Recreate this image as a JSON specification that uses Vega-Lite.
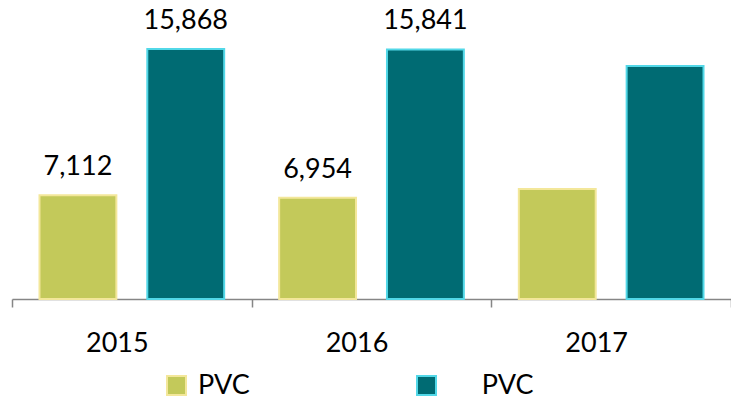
{
  "$schema": "https://vega.github.io/schema/vega-lite/v6.json",
  "width": 719,
  "height": 299,
  "autosize": {"type": "none"},
  "padding": {"left": 12, "top": 0, "right": 0, "bottom": 101},
  "background": "white",
  "config": {"view": {"stroke": null}, "font": "Lato"},
  "data": {
    "values": [
      {"year": "2015", "series": "A", "value": 7112, "labeled": true},
      {"year": "2015", "series": "B", "value": 15868, "labeled": true},
      {"year": "2016", "series": "A", "value": 6954, "labeled": true},
      {"year": "2016", "series": "B", "value": 15841, "labeled": true},
      {"year": "2017", "series": "A", "value": 7490, "labeled": false},
      {"year": "2017", "series": "B", "value": 14850, "labeled": false}
    ]
  },
  "encoding": {
    "x": {
      "field": "year",
      "type": "nominal",
      "scale": {"paddingInner": 0, "paddingOuter": 0},
      "axis": {
        "title": null,
        "labelAngle": 0,
        "labelFont": "Lato",
        "labelFontSize": 27,
        "labelColor": "#000000",
        "labelOffset": -15,
        "labelPadding": 23,
        "tickBand": "extent",
        "tickSize": 8,
        "tickColor": "#868686",
        "domainColor": "#868686",
        "domainWidth": 1.5,
        "tickWidth": 1.5,
        "grid": false
      }
    },
    "xOffset": {
      "field": "series",
      "type": "nominal",
      "scale": {"paddingInner": 0.287, "paddingOuter": 0.255}
    },
    "y": {
      "field": "value",
      "type": "quantitative",
      "scale": {"domain": [900, 18800], "zero": false, "clamp": true},
      "axis": null
    }
  },
  "layer": [
    {
      "mark": {"type": "bar", "strokeWidth": 2},
      "encoding": {
        "fill": {
          "field": "series",
          "type": "nominal",
          "scale": {"domain": ["A", "B"], "range": ["#C3C95A", "#006B73"]},
          "legend": {
            "orient": "none",
            "legendX": 151,
            "legendY": 372,
            "direction": "horizontal",
            "title": null,
            "padding": 0,
            "symbolType": "square",
            "symbolSize": 361,
            "symbolStrokeWidth": 2,
            "labelFont": "Lato",
            "labelFontSize": 27,
            "labelColor": "#000000",
            "labelOffset": 8,
            "columnPadding": 163,
            "labelExpr": "datum.value == 'B' ? '\u200b\u2003\u2002PVC' : 'PVC'"
          }
        },
        "stroke": {
          "field": "series",
          "type": "nominal",
          "scale": {"domain": ["A", "B"], "range": ["#F3E79A", "#52D8E8"]},
          "legend": {
            "orient": "none",
            "legendX": 151,
            "legendY": 372,
            "direction": "horizontal",
            "title": null,
            "padding": 0,
            "symbolType": "square",
            "symbolSize": 361,
            "symbolStrokeWidth": 2,
            "labelFont": "Lato",
            "labelFontSize": 27,
            "labelColor": "#000000",
            "labelOffset": 8,
            "columnPadding": 163,
            "labelExpr": "datum.value == 'B' ? '\u200b\u2003\u2002PVC' : 'PVC'"
          }
        }
      }
    },
    {
      "transform": [{"filter": "datum.labeled"}],
      "mark": {"type": "text", "baseline": "alphabetic", "dy": -20, "fontSize": 27, "font": "Lato", "color": "#000000"},
      "encoding": {
        "text": {"field": "value", "type": "quantitative", "format": ",d"}
      }
    }
  ]
}
